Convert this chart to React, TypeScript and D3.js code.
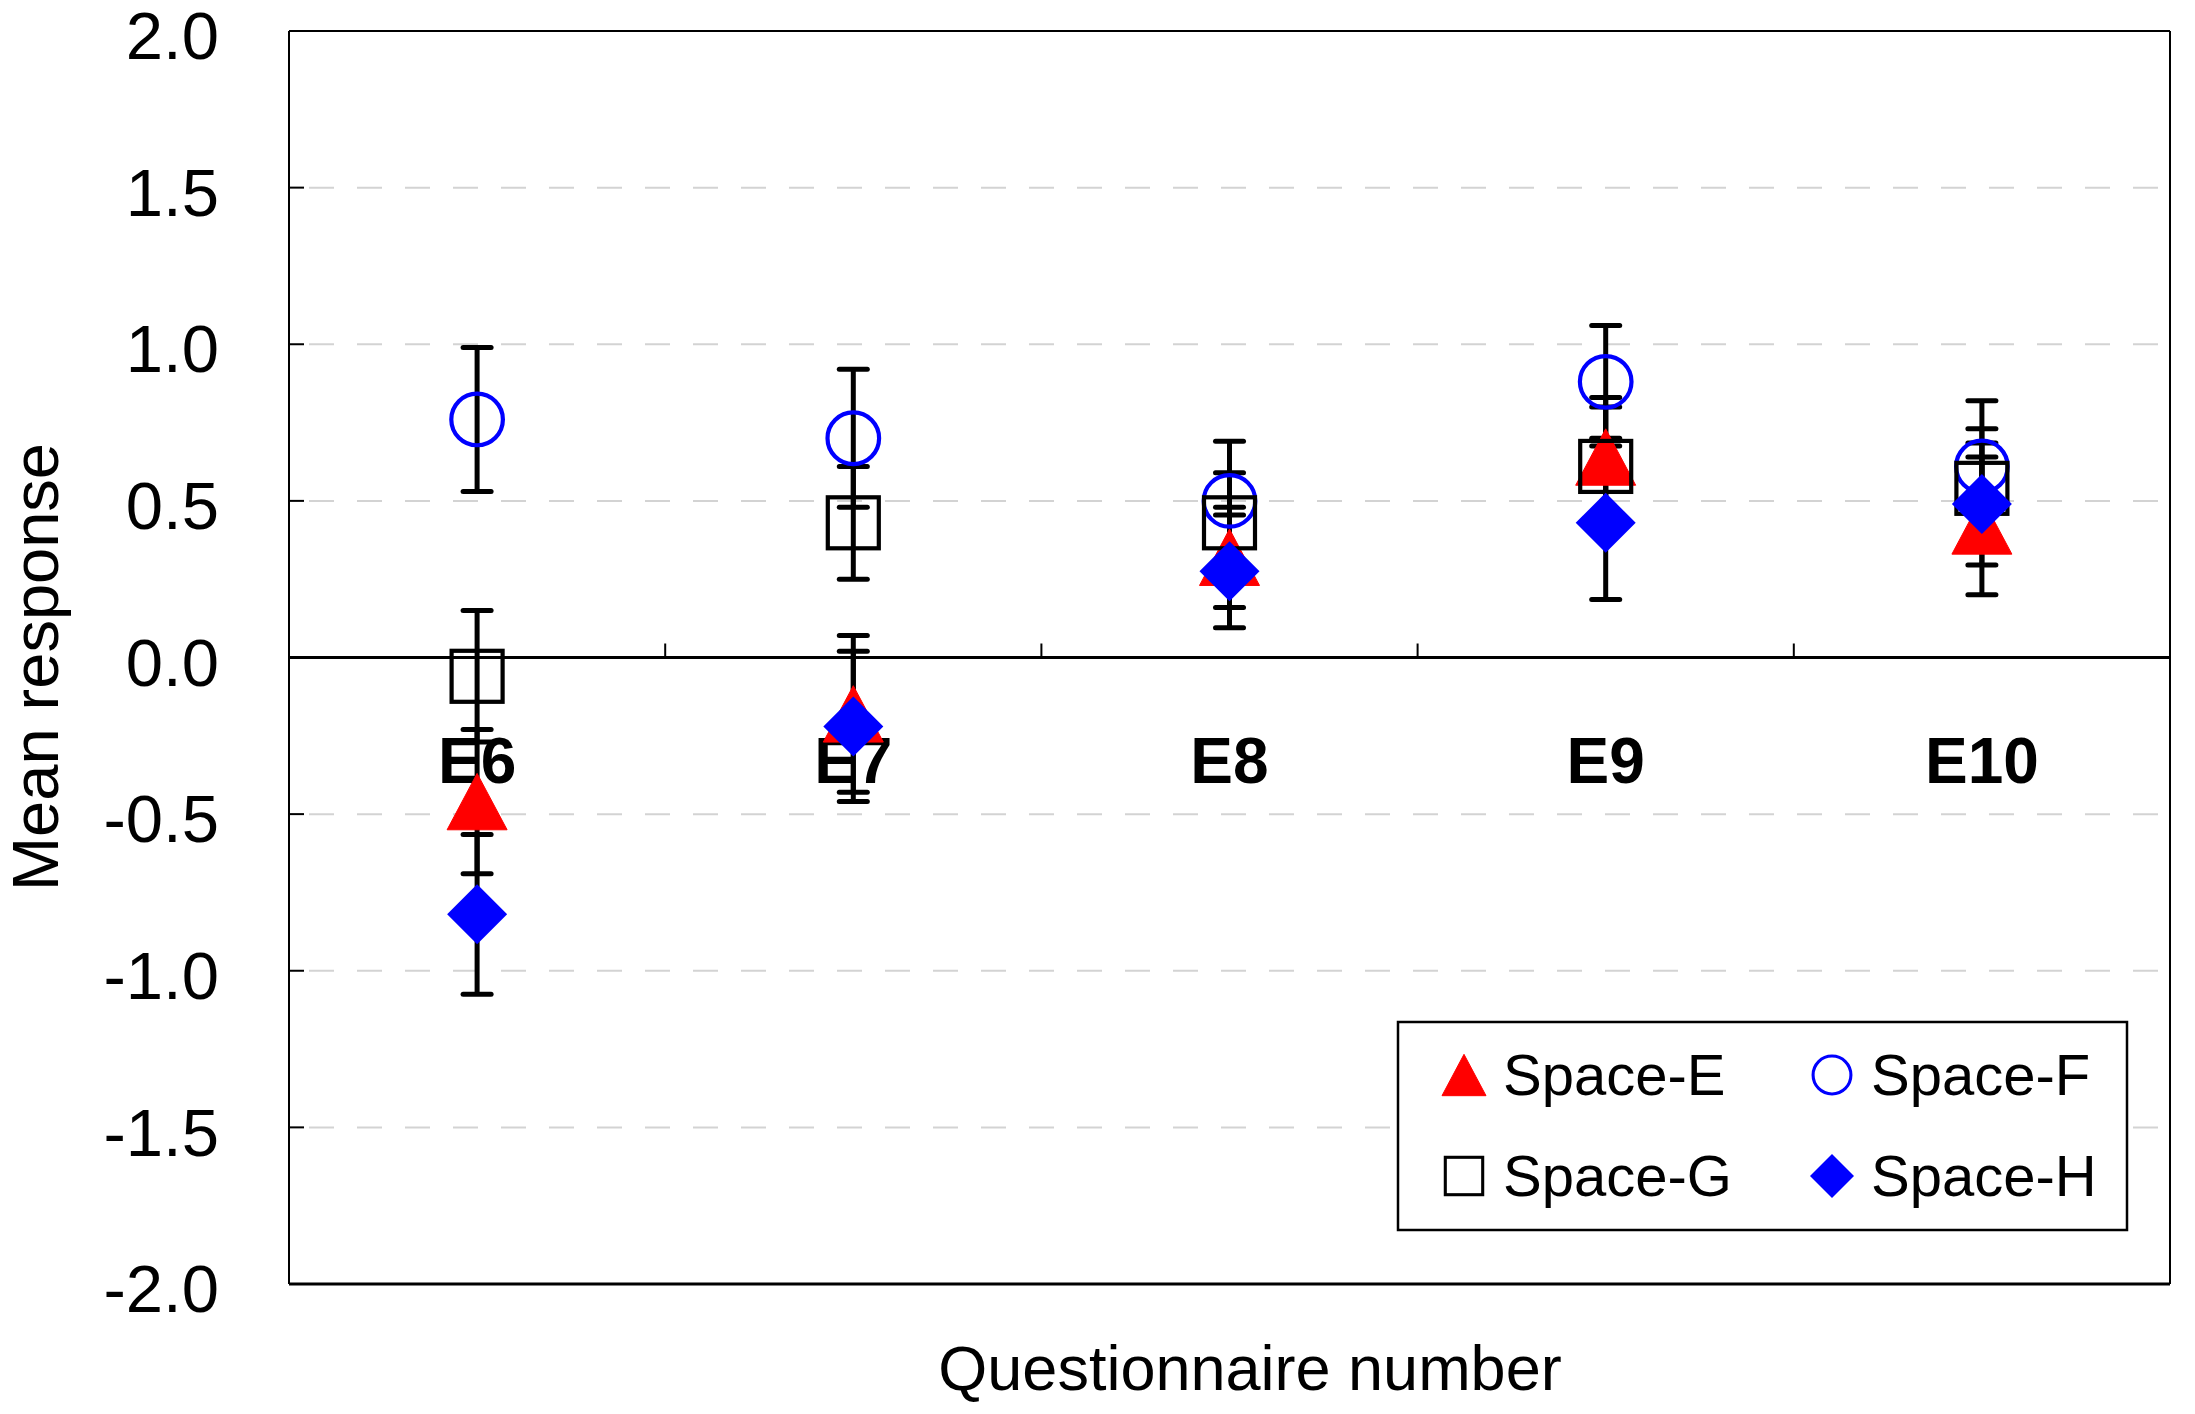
import React from 'react';
import * as d3 from 'd3';

// 질문 번호 (x 범주)
const categories = ['E6', 'E7', 'E8', 'E9', 'E10'];

// 평균 응답값과 오차
const spaceE = [-0.46, -0.18, 0.32, 0.64, 0.42];
const errE = [0.23, 0.25, 0.16, 0.19, 0.22];
const spaceF = [0.76, 0.7, 0.5, 0.88, 0.61];
const errF = [0.23, 0.22, 0.19, 0.18, 0.21];
const spaceG = [-0.06, 0.43, 0.43, 0.61, 0.54];
const errG = [0.21, 0.18, 0.16, 0.19, 0.19];
const spaceH = [-0.82, -0.22, 0.275, 0.43, 0.49];
const errH = [0.255, 0.24, 0.18, 0.245, 0.195];

const yTicks = [-2, -1.5, -1, -0.5, 0, 0.5, 1, 1.5, 2];

type Shape = 'triangle' | 'circle' | 'square' | 'diamond';

const series: { name: string; values: number[]; errors: number[]; shape: Shape }[] = [
  { name: 'Space-E', values: spaceE, errors: errE, shape: 'triangle' },
  { name: 'Space-F', values: spaceF, errors: errF, shape: 'circle' },
  { name: 'Space-G', values: spaceG, errors: errG, shape: 'square' },
  { name: 'Space-H', values: spaceH, errors: errH, shape: 'diamond' },
];

const WIDTH = 2195;
const HEIGHT = 1414;
const margin = { top: 31, right: 25, bottom: 130, left: 289 };
const FONT = "'Liberation Sans', Arial, Helvetica, sans-serif";

// 마커 그리기 (크기 s: 기준 폭)
function Marker({ shape, cx, cy, s }: { shape: Shape; cx: number; cy: number; s: number }) {
  if (shape === 'triangle') {
    const w = s;
    const h = s * 0.94;
    return (
      <path
        d={`M${cx},${cy - h / 2}L${cx + w / 2},${cy + h / 2}L${cx - w / 2},${cy + h / 2}Z`}
        fill="#ff0000"
        stroke="#ff0000"
        strokeWidth={1}
        strokeLinejoin="round"
      />
    );
  }
  if (shape === 'diamond') {
    const h = s;
    return (
      <path
        d={`M${cx},${cy - h / 2}L${cx + h / 2},${cy}L${cx},${cy + h / 2}L${cx - h / 2},${cy}Z`}
        fill="#0000ff"
      />
    );
  }
  if (shape === 'circle') {
    const r = s * 0.43;
    return <circle cx={cx} cy={cy} r={r} fill="none" stroke="#0000ff" strokeWidth={s * 0.07} />;
  }
  const a = s * 0.85;
  return (
    <rect x={cx - a / 2} y={cy - a / 2} width={a} height={a} fill="none" stroke="#000" strokeWidth={s * 0.07} />
  );
}

export default function App() {
  const x0 = margin.left;
  const x1 = WIDTH - margin.right;
  const y0 = margin.top;
  const y1 = HEIGHT - margin.bottom;

  const x = d3.scaleBand<string>().domain(categories).range([x0, x1]);
  const y = d3.scaleLinear().domain([-2, 2]).range([y1, y0]);
  const cx = (c: string) => (x(c) as number) + x.bandwidth() / 2;

  const capHalf = 14;

  return (
    <svg
      width={WIDTH}
      height={HEIGHT}
      style={{ position: 'absolute', left: 0, top: 0, background: '#fff' }}
      fontFamily={FONT}>
      <rect x={0} y={0} width={WIDTH} height={HEIGHT} fill="#fff" />

      {/* 점선 격자 */}
      {yTicks
        .filter((t) => t !== 0 && Math.abs(t) !== 2)
        .map((t) => (
          <line
            key={`g${t}`}
            x1={x0 + 20}
            x2={x1}
            y1={y(t)}
            y2={y(t)}
            stroke="#d3d3d3"
            strokeWidth={2}
            strokeDasharray="25 23"
          />
        ))}

      {/* 플롯 테두리 */}
      <line x1={x0} x2={x1} y1={y0} y2={y0} stroke="#000" strokeWidth={2} />
      <line x1={x1} x2={x1} y1={y0} y2={y1} stroke="#000" strokeWidth={2} />
      <line x1={x0} x2={x0} y1={y0} y2={y1} stroke="#000" strokeWidth={2} />
      <line x1={x0} x2={x1} y1={y1} y2={y1} stroke="#000" strokeWidth={3} />

      {/* y 눈금과 라벨 */}
      {yTicks.map((t) => (
        <g key={`t${t}`}>
          <line x1={x0} x2={x0 + 15} y1={y(t)} y2={y(t)} stroke="#000" strokeWidth={2} />
          <text x={219} y={y(t)} dy="0.42em" textAnchor="end" fontSize={67}>
            {t.toFixed(1)}
          </text>
        </g>
      ))}

      {/* 0 기준선 (x축) */}
      <line x1={x0} x2={x1} y1={y(0)} y2={y(0)} stroke="#000" strokeWidth={3} />
      {categories.slice(1).map((c) => (
        <line key={`xt${c}`} x1={x(c)} x2={x(c)} y1={y(0)} y2={y(0) - 14} stroke="#000" strokeWidth={2} />
      ))}

      {/* 범주 라벨 */}
      {categories.map((c) => (
        <text key={`c${c}`} x={cx(c)} y={783} textAnchor="middle" fontSize={64} fontWeight="bold">
          {c}
        </text>
      ))}

      {/* 오차 막대 */}
      {series.map((s) =>
        categories.map((c, i) => {
          const top = y(s.values[i] + s.errors[i]);
          const bot = y(s.values[i] - s.errors[i]);
          const px = cx(c);
          return (
            <g key={`e${s.name}${c}`} stroke="#000" strokeWidth={5}>
              <line x1={px} x2={px} y1={top} y2={bot} />
              <line x1={px - capHalf} x2={px + capHalf} y1={top} y2={top} strokeLinecap="round" />
              <line x1={px - capHalf} x2={px + capHalf} y1={bot} y2={bot} strokeLinecap="round" />
            </g>
          );
        }),
      )}

      {/* 마커 */}
      {series.map((s) =>
        categories.map((c, i) => (
          <Marker key={`m${s.name}${c}`} shape={s.shape} cx={cx(c)} cy={y(s.values[i])} s={60} />
        )),
      )}

      {/* 범례 */}
      <rect x={1398} y={1022} width={729} height={208} fill="#fff" stroke="#000" strokeWidth={2.5} />
      {series.map((s, i) => {
        const col = i % 2;
        const row = Math.floor(i / 2);
        const mx = col === 0 ? 1464 : 1832;
        const my = row === 0 ? 1075 : 1176;
        return (
          <g key={`l${s.name}`}>
            <Marker shape={s.shape} cx={mx} cy={my} s={44} />
            <text x={mx + 39} y={my + 20} fontSize={58}>
              {s.name}
            </text>
          </g>
        );
      })}

      {/* 축 제목 */}
      <text x={1250} y={1390} textAnchor="middle" fontSize={63}>
        Questionnaire number
      </text>
      <text transform="translate(58, 667) rotate(-90)" textAnchor="middle" fontSize={65}>
        Mean response
      </text>
    </svg>
  );
}
